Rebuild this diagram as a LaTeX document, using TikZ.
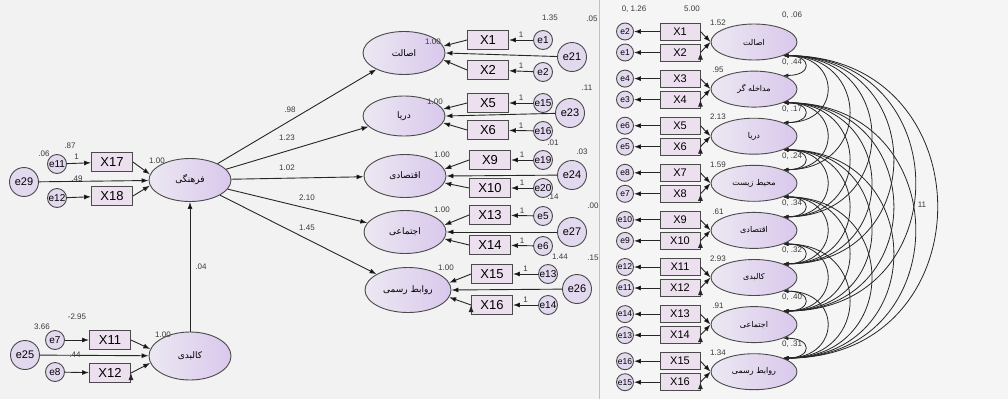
\documentclass[tikz,border=0pt]{standalone}
\usepackage{fontspec}
\setmainfont{Liberation Sans}
\newfontfamily\farsi[Script=Arabic]{DejaVu Sans}
\TeXXeTstate=1
\usetikzlibrary{positioning,arrows.meta,calc,shapes.geometric}
\tikzset{>={Latex[length=7pt,width=5pt]}}
\definecolor{lav}{HTML}{E3D9EF}
\definecolor{lavl}{HTML}{ECE8F2}
\definecolor{lavr}{HTML}{D9C8EC}
\definecolor{boxfill}{HTML}{ECE0EF}
\definecolor{edge}{HTML}{4A4A4A}
\definecolor{numcol}{HTML}{3A3A3A}
\definecolor{bgleft}{HTML}{F2F2F2}
\definecolor{bgright}{HTML}{F5F5F5}
\newcommand{\fa}[1]{{\farsi\beginR #1\endR}}

\begin{document}
\begin{tikzpicture}[x=1pt,y=-1pt,
    latent/.style={ellipse,draw=edge,left color=lavl,right color=lavr,line width=0.9pt,minimum width=82pt,minimum height=43pt,inner sep=0pt,font=\fontsize{9}{9}\selectfont},
    rlatent/.style={latent,minimum width=86pt,minimum height=36pt,font=\fontsize{8}{8}\selectfont},
    obs/.style={rectangle,draw=edge,fill=boxfill,line width=0.9pt,minimum width=41pt,minimum height=19pt,inner sep=0pt,font=\fontsize{13}{13}\selectfont},
    robs/.style={obs,minimum width=40pt,minimum height=17pt,font=\fontsize{11}{11}\selectfont},
    err/.style={circle,draw=edge,fill=lav,line width=0.9pt,minimum size=19pt,inner sep=0pt,font=\fontsize{10}{10}\selectfont},
    rerr/.style={err,minimum size=17pt,font=\fontsize{8.5}{8.5}\selectfont},
    bigerr/.style={err,minimum size=29pt,font=\fontsize{11}{11}\selectfont},
    num/.style={font=\fontsize{8}{8}\selectfont,text=numcol,inner sep=0pt},
    path/.style={->,line width=0.9pt,draw=black!85},
    cov/.style={<->,line width=0.8pt,draw=black!85,>={Latex[length=5pt,width=4pt]}},
  ]
  \useasboundingbox (0,0) rectangle (1008,399);
  \fill[bgleft] (0,0) rectangle (599,399);
  \fill[bgright] (599,0) rectangle (1008,399);
  \draw[black!25,line width=1pt] (599,0) -- (599,399);

  % second order model
  \node[latent] (cult) at (190,180) {\fa{فرهنگی}};
  \node[latent,minimum height=48pt] (phys) at (190,356) {\fa{کالبدی}};

  \node[obs] (x17) at (112,162) {X17};
  \node[obs] (x18) at (112,196) {X18};
  \node[err] (e11) at (57,164) {e11};
  \node[err] (e12) at (57,198) {e12};
  \node[bigerr] (e29) at (24,182) {e29};

  \node[obs] (x11) at (110,340) {X11};
  \node[obs] (x12) at (110,373) {X12};
  \node[err] (e7) at (55,340) {e7};
  \node[err] (e8) at (55,372) {e8};
  \node[bigerr] (e25) at (25,355) {e25};

  \node[latent] (asal) at (404,53) {\fa{اصالت}};
  \node[latent,minimum height=40pt] (darya) at (404,116) {\fa{دریا}};
  \node[latent] (eqt) at (405,176) {\fa{اقتصادی}};
  \node[latent] (ejt) at (405,232) {\fa{اجتماعی}};
  \node[latent,minimum width=86pt,minimum height=45pt] (rav) at (408,290) {\fa{روابط رسمی}};

  \node[obs] (x1) at (488,40) {X1};
  \node[obs] (x2) at (488,70) {X2};
  \node[obs] (x5) at (488,103) {X5};
  \node[obs] (x6) at (488,130) {X6};
  \node[obs] (x9) at (490,160) {X9};
  \node[obs] (x10) at (490,188) {X10};
  \node[obs] (x13) at (490,215) {X13};
  \node[obs] (x14) at (490,245) {X14};
  \node[obs] (x15) at (492,274) {X15};
  \node[obs] (x16) at (492,305) {X16};

  \node[err] (e1) at (543,40) {e1};
  \node[err] (e2) at (543,72) {e2};
  \node[err] (e15) at (543,103) {e15};
  \node[err] (e16) at (543,131) {e16};
  \node[err] (e19) at (543,160) {e19};
  \node[err] (e20) at (543,188) {e20};
  \node[err] (e5) at (543,216) {e5};
  \node[err] (e6) at (543,246) {e6};
  \node[err] (e13) at (548,274) {e13};
  \node[err] (e14) at (548,305) {e14};

  \node[bigerr] (e21) at (572,57) {e21};
  \node[bigerr] (e23) at (570,113) {e23};
  \node[bigerr] (e24) at (572,175) {e24};
  \node[bigerr] (e27) at (572,232) {e27};
  \node[bigerr] (e26) at (577,289) {e26};

  \path[path] (e11) edge node[num,above=3pt,pos=0.4] {1} (x17)
              (e12) edge (x18)
              (x17.east) edge (cult.172)
              (x18.east) edge (cult.188)
              (e29) edge (cult)
              (e7) edge (x11)
              (e8) edge (x12)
              (x11.east) edge (phys.170)
              (x12.east) edge (phys.190)
              (e25) edge (phys)
              (phys) edge node[num,right=5pt] {.04} (cult);

  \path[path] (cult) edge (asal)
              (cult) edge (darya)
              (cult) edge (eqt)
              (cult) edge (ejt)
              (cult) edge (rav);

  \path[path] (e1) edge node[num,above=2pt] {1} (x1)
              (e2) edge node[num,above=2pt] {1} (x2)
              (x1.west) edge (asal.10)
              (x2.west) edge (asal.-10)
              (e21) edge (asal.east)
              (e15) edge node[num,above=2pt] {1} (x5)
              (e16) edge node[num,above=2pt] {1} (x6)
              (x5.west) edge (darya.10)
              (x6.west) edge (darya.-10)
              (e23) edge (darya.east)
              (e19) edge node[num,above=2pt] {1} (x9)
              (e20) edge node[num,above=2pt] {1} (x10)
              (x9.west) edge (eqt.10)
              (x10.west) edge (eqt.-10)
              (e24) edge (eqt.east)
              (e5) edge node[num,above=2pt] {1} (x13)
              (e6) edge node[num,above=2pt] {1} (x14)
              (x13.west) edge (ejt.10)
              (x14.west) edge (ejt.-10)
              (e27) edge (ejt.east)
              (e13) edge node[num,above=2pt] {1} (x15)
              (e14) edge node[num,above=2pt] {1} (x16)
              (x15.west) edge (rav.10)
              (x16.west) edge (rav.-10)
              (e26) edge (rav.east);

  % estimates
  \node[num] at (70,146) {.87};
  \node[num] at (44,154) {.06};
  \node[num] at (77,179) {.49};
  \node[num] at (157,161) {1.00};
  \node[num] at (77,317) {-2.95};
  \node[num] at (42,327) {3.66};
  \node[num] at (75,355) {.44};
  \node[num] at (163,335) {1.00};
  \node[num] at (290,110) {.98};
  \node[num] at (287,138) {1.23};
  \node[num] at (287,168) {1.02};
  \node[num] at (307,198) {2.10};
  \node[num] at (307,228) {1.45};
  \node[num] at (433,42) {1.00};
  \node[num] at (435,102) {1.00};
  \node[num] at (442,155) {1.00};
  \node[num] at (442,210) {1.00};
  \node[num] at (446,268) {1.00};
  \node[num] at (550,18) {1.35};
  \node[num] at (592,19) {.05};
  \node[num] at (587,88) {.11};
  \node[num] at (553,143) {.01};
  \node[num] at (582,152) {.03};
  \node[num] at (553,197) {.14};
  \node[num] at (593,206) {.00};
  \node[num] at (560,257) {1.44};
  \node[num] at (593,258) {.15};

  % first order model
  \foreach \nm [count=\i] in {اصالت,مداخله گر,دریا,محیط زیست,اقتصادی,کالبدی,اجتماعی,روابط رسمی} {
    \pgfmathsetmacro\yc{42+47.1*(\i-1)}
    \pgfmathtruncatemacro\a{2*\i-1}
    \pgfmathtruncatemacro\b{2*\i}
    \node[rlatent] (r\i) at (754,\yc) {\fa{\nm}};
    \node[robs] (rx\a) at (680,\yc-10.5) {X\a};
    \node[robs] (rx\b) at (680,\yc+10.5) {X\b};
    \node[rerr] (re\b) at (625,\yc-10.5) {e\b};
    \node[rerr] (re\a) at (625,\yc+10.5) {e\a};
    \path[path] (rx\a) edge (re\b)
                (rx\b) edge (re\a)
                (rx\a.east) edge (r\i.west)
                (rx\b.east) edge (r\i.west);
  }
  \foreach \v [count=\i] in {.06,.44,.17,.24,.34,.32,.40,.31}
    \node[num] at (792,42+47.1*\i-47.1-27) {0, \v};
  \foreach \v [count=\i] in {1.52,.95,2.13,1.59,.61,2.93,.91,1.34}
    \node[num] at (718,42+47.1*\i-47.1-19) {\v};
  \node[num] at (634,9) {0, 1.26};
  \node[num] at (692,9) {5.00};

  \foreach \i [evaluate=\i as \k using int(\i+1)] in {1,...,7}
    \foreach \j in {\k,...,8} {
      \pgfmathsetmacro\c{0.62*47.1*(\j-\i)}
      \draw[cov] (r\i.-25) .. controls +(\c,0) and +(\c,0) .. (r\j.25);
    }
  \node[num] at (922,205) {11};
\end{tikzpicture}
\end{document}
